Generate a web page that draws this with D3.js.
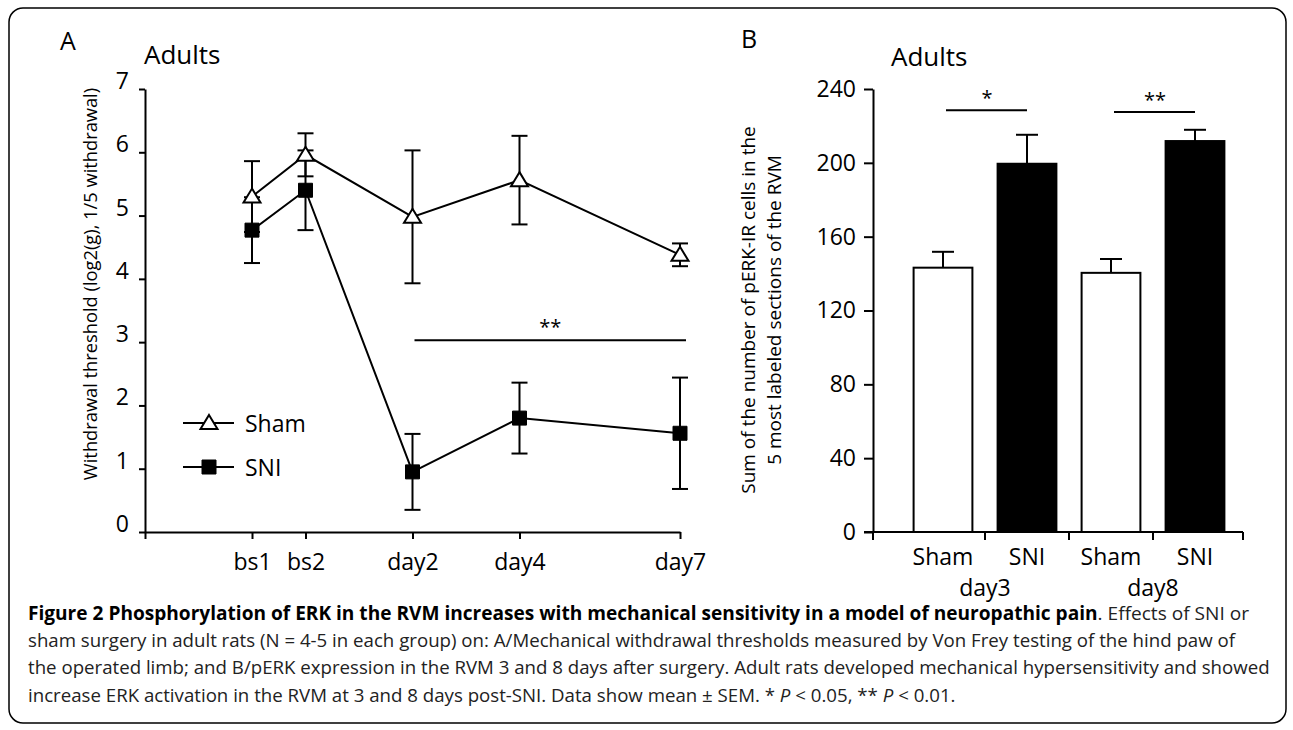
<!DOCTYPE html>
<html><head><meta charset="utf-8">
<script src="https://cdn.jsdelivr.net/npm/d3@7"></script>
<style>
body{margin:0;background:#fff}
svg{display:block}
text{font-family:"Open Sans","Noto Sans",sans-serif;fill:#000}
</style>
</head><body>
<svg id="c" width="1293" height="730"></svg>
<script>
// ---------- Panel A data ----------
const timepoints = ["bs1", "bs2", "day2", "day4", "day7"];
const timeDays = [-1, 0, 2, 4, 7];
const shamMean = [5.30, 5.96, 4.98, 5.56, 4.38];
const shamSem = [0.56, 0.34, 1.05, 0.70, 0.18];
const sniMean = [4.77, 5.40, 0.95, 1.80, 1.56];
const sniSem = [0.52, 0.63, 0.60, 0.56, 0.88];
const yTicksA = [0, 1, 2, 3, 4, 5, 6, 7];
const seriesNames = ["Sham", "SNI"];

// ---------- Panel B data ----------
const barCats = ["Sham day3", "SNI day3", "Sham day8", "SNI day8"];
const barLabels = ["Sham", "SNI", "Sham", "SNI"];
const barGroups = ["day3", "day8"];
const barMean = [143.2, 199.5, 140.4, 211.8];
const barSem = [8.6, 15.7, 7.5, 6.1];
const yTicksB = [0, 40, 80, 120, 160, 200, 240];

const svg = d3.select("#c");
const SW = 2;

// border
svg.append("rect").attr("x", 9).attr("y", 8).attr("width", 1277).attr("height", 715)
  .attr("rx", 14).attr("fill", "none").attr("stroke", "#000").attr("stroke-width", 1.5);

// ================= Panel A =================
const xA = d3.scaleLinear().domain([-3, 7]).range([145, 680]);
const yA = d3.scaleLinear().domain([0, 7]).range([532, 89]);
const gA = svg.append("g");

gA.append("text").attr("x", 60).attr("y", 50).attr("font-size", 25).text("A");
gA.append("text").attr("x", 144).attr("y", 64).attr("font-size", 26).text("Adults");

const yAxisA = gA.append("g").attr("transform", `translate(${xA(-3)},0)`)
  .call(d3.axisLeft(yA).tickValues(yTicksA).tickSize(6).tickSizeOuter(0).tickPadding(10).tickFormat(d3.format("d")));
yAxisA.selectAll("text").attr("font-size", 23).attr("dy", "-0.02em").style("font-family", '"Open Sans",sans-serif');
yAxisA.selectAll("path,line").attr("stroke-width", SW);

const xAxisA = gA.append("g").attr("transform", `translate(0,${yA(0)})`)
  .call(d3.axisBottom(xA).tickValues([-3].concat(timeDays)).tickSize(7).tickSizeOuter(0).tickPadding(15)
    .tickFormat(d => { const i = timeDays.indexOf(d); return i < 0 ? "" : timepoints[i]; }));
xAxisA.selectAll("text").attr("font-size", 23).style("font-family", '"Open Sans",sans-serif');
xAxisA.selectAll("path,line").attr("stroke-width", SW);

gA.append("text")
  .attr("transform", `translate(89,284) rotate(-90)`)
  .attr("text-anchor", "middle").attr("dominant-baseline", "central")
  .attr("font-size", 18.3).text("Withdrawal threshold (log2(g), 1/5 withdrawal)");

function drawMarker(sel, kind, fx, fy) {
  if (kind === "tri") {
    sel.attr("d", d => { const x = fx(d), y = fy(d); return `M${x},${y - 8}L${x + 8.5},${y + 6}L${x - 8.5},${y + 6}Z`; })
      .attr("fill", "#fff").attr("stroke", "#000").attr("stroke-width", SW);
  } else {
    sel.attr("d", d => { const x = fx(d), y = fy(d); return `M${x - 7},${y - 7}h14v14h-14Z`; })
      .attr("fill", "#000").attr("stroke", "#000").attr("stroke-width", 1);
  }
}
function drawSeries(mean, sem, kind) {
  const pts = timeDays.map((d, i) => ({ x: d, m: mean[i], s: sem[i] }));
  const line = d3.line().x(d => xA(d.x)).y(d => yA(d.m));
  gA.append("path").datum(pts).attr("d", line).attr("fill", "none").attr("stroke", "#000").attr("stroke-width", SW);
  const eb = gA.append("g").selectAll("g").data(pts).join("g");
  eb.append("line").attr("x1", d => xA(d.x)).attr("x2", d => xA(d.x))
    .attr("y1", d => yA(d.m - d.s)).attr("y2", d => yA(d.m + d.s)).attr("stroke", "#000").attr("stroke-width", SW);
  [1, -1].forEach(sg => {
    eb.append("line").attr("x1", d => xA(d.x) - 8).attr("x2", d => xA(d.x) + 8)
      .attr("y1", d => yA(d.m + sg * d.s)).attr("y2", d => yA(d.m + sg * d.s))
      .attr("stroke", "#000").attr("stroke-width", SW);
  });
  drawMarker(gA.append("g").selectAll("path").data(pts).join("path"), kind, d => xA(d.x), d => yA(d.m));
}
drawSeries(sniMean, sniSem, "sq");
drawSeries(shamMean, shamSem, "tri");

// significance bar A
const sigY = 3.03;
gA.append("line").attr("x1", xA(2) + 2).attr("x2", xA(7) + 6).attr("y1", yA(sigY)).attr("y2", yA(sigY))
  .attr("stroke", "#000").attr("stroke-width", SW);
gA.append("text").attr("x", (xA(2) + xA(7)) / 2 + 4).attr("y", yA(sigY) - 6).attr("text-anchor", "middle")
  .attr("font-size", 20).text("**");

// legend A
const legY = [423, 467];
seriesNames.forEach((nm, i) => {
  gA.append("line").attr("x1", 183).attr("x2", 234).attr("y1", legY[i]).attr("y2", legY[i])
    .attr("stroke", "#000").attr("stroke-width", SW);
  drawMarker(gA.append("path").datum({ x: 209, y: legY[i] }), i === 0 ? "tri" : "sq", d => d.x, d => d.y);
  gA.append("text").attr("x", 245).attr("y", legY[i]).attr("dominant-baseline", "central")
    .attr("font-size", 23).text(nm);
});

// ================= Panel B =================
const yB = d3.scaleLinear().domain([0, 240]).range([532, 89]);
const xB = d3.scaleBand().domain(barCats).range([901, 1237]).paddingInner(0.3).paddingOuter(0.15);
const axisLeftX = 873, axisRightX = 1243;
const gB = svg.append("g");

gB.append("text").attr("x", 741).attr("y", 48).attr("font-size", 25).text("B");
gB.append("text").attr("x", 891).attr("y", 66).attr("font-size", 26).text("Adults");

const yAxisB = gB.append("g").attr("transform", `translate(${axisLeftX},0)`)
  .call(d3.axisLeft(yB).tickValues(yTicksB).tickSize(9).tickSizeOuter(0).tickPadding(8));
yAxisB.selectAll("text").attr("font-size", 23).style("font-family", '"Open Sans",sans-serif');
yAxisB.selectAll("path,line").attr("stroke-width", SW);

const ylabB = gB.append("text")
  .attr("transform", `translate(761,310) rotate(-90)`)
  .attr("text-anchor", "middle").attr("font-size", 19);
ylabB.append("tspan").attr("x", 0).attr("dy", "-0.3em").text("Sum of the number of pERK-IR cells in the");
ylabB.append("tspan").attr("x", 0).attr("dy", "1.37em").text("5 most labeled sections of the RVM");

// bars
gB.append("g").selectAll("rect").data(barCats).join("rect")
  .attr("x", d => xB(d)).attr("width", xB.bandwidth())
  .attr("y", (d, i) => yB(barMean[i])).attr("height", (d, i) => yB(0) - yB(barMean[i]))
  .attr("fill", (d, i) => i % 2 ? "#000" : "#fff").attr("stroke", "#000").attr("stroke-width", SW);
// error bars (upper)
const ebB = gB.append("g").selectAll("g").data(barCats).join("g");
ebB.append("line").attr("x1", d => xB(d) + xB.bandwidth() / 2).attr("x2", d => xB(d) + xB.bandwidth() / 2)
  .attr("y1", (d, i) => yB(barMean[i])).attr("y2", (d, i) => yB(barMean[i] + barSem[i]))
  .attr("stroke", "#000").attr("stroke-width", SW);
ebB.append("line").attr("x1", d => xB(d) + xB.bandwidth() / 2 - 11).attr("x2", d => xB(d) + xB.bandwidth() / 2 + 11)
  .attr("y1", (d, i) => yB(barMean[i] + barSem[i])).attr("y2", (d, i) => yB(barMean[i] + barSem[i]))
  .attr("stroke", "#000").attr("stroke-width", SW);

// x axis B
const xAxisB = gB.append("g");
xAxisB.append("line").attr("x1", axisLeftX - 9).attr("x2", axisRightX).attr("y1", yB(0)).attr("y2", yB(0))
  .attr("stroke", "#000").attr("stroke-width", SW);
const tickXs = [axisLeftX].concat(barCats.slice(1).map(c => xB(c) - xB.step() * xB.paddingInner() / 2), [axisRightX]);
xAxisB.selectAll("line.t").data(tickXs).join("line").attr("class", "t")
  .attr("x1", d => d).attr("x2", d => d).attr("y1", yB(0)).attr("y2", yB(0) + 8)
  .attr("stroke", "#000").attr("stroke-width", SW);
xAxisB.selectAll("text.c").data(barCats).join("text").attr("class", "c")
  .attr("x", d => xB(d) + xB.bandwidth() / 2).attr("y", 565).attr("text-anchor", "middle")
  .attr("font-size", 23).text((d, i) => barLabels[i]);
xAxisB.selectAll("text.g").data(barGroups).join("text").attr("class", "g")
  .attr("x", (d, i) => tickXs[1 + i * 2]).attr("y", 596).attr("text-anchor", "middle")
  .attr("font-size", 23).text(d => d);

// significance B
const sigB = [{ a: 0, b: 1, v: 228.5, t: "*" }, { a: 2, b: 3, v: 227.5, t: "**" }];
sigB.forEach(s => {
  const x1 = xB(barCats[s.a]) + xB.bandwidth() / 2, x2 = xB(barCats[s.b]) + xB.bandwidth() / 2;
  gB.append("line").attr("x1", x1 + 3).attr("x2", x2).attr("y1", yB(s.v)).attr("y2", yB(s.v))
    .attr("stroke", "#000").attr("stroke-width", SW);
  gB.append("text").attr("x", (x1 + x2) / 2 + 2).attr("y", yB(s.v) - 5).attr("text-anchor", "middle")
    .attr("font-size", 20).text(s.t);
});

// ================= Caption =================
const capLines = [
  [["b", "Figure 2 Phosphorylation of ERK in the RVM increases with mechanical sensitivity in a model of neuropathic pain"], ["n", ". Effects of SNI or"]],
  [["n", "sham surgery in adult rats (N = 4-5 in each group) on: A/Mechanical withdrawal thresholds measured by Von Frey testing of the hind paw of"]],
  [["n", "the operated limb; and B/pERK expression in the RVM 3 and 8 days after surgery. Adult rats developed mechanical hypersensitivity and showed"]],
  [["n", "increase ERK activation in the RVM at 3 and 8 days post-SNI. Data show mean \u00b1 SEM. * "], ["i", "P"], ["n", " < 0.05, ** "], ["i", "P"], ["n", " < 0.01."]]
];
const capRight = [1249, 1228, 1265, 965];
const capY = [620, 647, 674, 702];
const capX = 28;
const cap = svg.append("g");
const capNodes = capLines.map((ln, i) => {
  const t = cap.append("text").attr("x", capX).attr("y", capY[i]).attr("font-size", 16).style("fill", "#222");
  ln.forEach(([k, s]) => {
    const sp = t.append("tspan").text(s);
    if (k === "b") sp.attr("font-weight", "bold").style("fill", "#000");
    if (k === "i") sp.attr("font-style", "italic");
  });
  return t;
});
// common font size from the plain-text lines
const ratios = [1, 2, 3].map(i => (capRight[i] - capX) / capNodes[i].node().getComputedTextLength());
const fs = 16 * d3.mean(ratios);
capNodes.forEach(t => t.attr("font-size", fs));
// bold first line: stretch to its measured width if needed
const w0 = capNodes[0].node().getComputedTextLength();
if (Math.abs(w0 - (capRight[0] - capX)) > 4) {
  capNodes[0].attr("textLength", capRight[0] - capX).attr("lengthAdjust", "spacingAndGlyphs");
}
</script>
</body></html>
